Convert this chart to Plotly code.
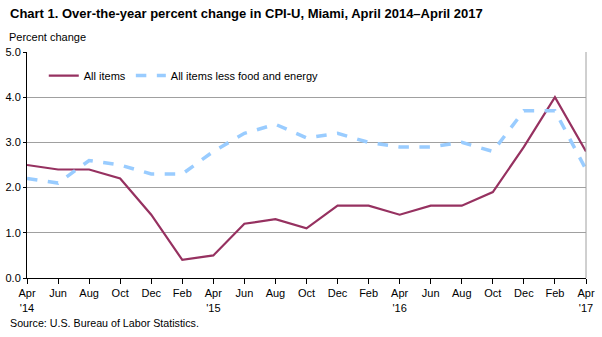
import plotly.graph_objects as go

months = ["Apr", "Jun", "Aug", "Oct", "Dec", "Feb", "Apr", "Jun", "Aug", "Oct",
          "Dec", "Feb", "Apr", "Jun", "Aug", "Oct", "Dec", "Feb", "Apr"]
years = ["'14", "", "", "", "", "", "'15", "", "", "", "", "", "'16", "", "", "", "", "", "'17"]
all_items = [2.5, 2.4, 2.4, 2.2, 1.4, 0.4, 0.5, 1.2, 1.3, 1.1, 1.6, 1.6, 1.4, 1.6, 1.6, 1.9, 2.9, 4.0, 2.8]
core = [2.2, 2.1, 2.6, 2.5, 2.3, 2.3, 2.8, 3.2, 3.4, 3.1, 3.2, 3.0, 2.9, 2.9, 3.0, 2.8, 3.7, 3.7, 2.4]

x = list(range(len(months)))
ticktext = [m + ("<br>" + y if y else "") for m, y in zip(months, years)]

fig = go.Figure()
fig.add_trace(go.Scatter(x=x, y=all_items, mode="lines", name="All items",
                         line=dict(color="#963160", width=2.2)))
fig.add_trace(go.Scatter(x=x, y=core, mode="lines", name="All items less food and energy",
                         line=dict(color="#99CCFF", width=3.5, dash="dash")))

font = "Liberation Sans, Arial, sans-serif"
fig.update_layout(
    width=602, height=337,
    margin=dict(l=27, r=16, t=52, b=59, autoexpand=False),
    paper_bgcolor="white", plot_bgcolor="white",
    font=dict(family=font, size=11, color="#000"),
    showlegend=True,
    legend=dict(orientation="h", x=0.03, y=0.96, xanchor="left", yanchor="top",
                bgcolor="rgba(0,0,0,0)", font=dict(size=11), itemwidth=30,
                tracegroupgap=0),
    xaxis=dict(range=[0, 18], tickvals=x, ticktext=ticktext, showgrid=False,
               showline=True, linecolor="#000", linewidth=1, ticks="outside",
               ticklen=5, tickcolor="#000", zeroline=False, tickfont=dict(size=11),
               automargin=False),
    yaxis=dict(range=[0, 5], tickvals=[0, 1, 2, 3, 4, 5],
               ticktext=["0.0", "1.0", "2.0", "3.0", "4.0", "5.0"],
               showgrid=True, gridcolor="#A0A0A0", gridwidth=1,
               showline=True, linecolor="#000", linewidth=1, ticks="outside",
               ticklen=3, tickcolor="#000", zeroline=False, tickfont=dict(size=11),
               automargin=False),
    shapes=[dict(type="line", xref="paper", yref="paper", x0=1, x1=1, y0=0, y1=1,
                 line=dict(color="#A0A0A0", width=1))],
    annotations=[
        dict(text="<b>Chart 1. Over-the-year percent change in CPI-U, Miami, April 2014\u2013April 2017</b>",
             xref="paper", yref="paper", x=-19/559, y=1 + 38/226, xanchor="left", yanchor="middle",
             showarrow=False, font=dict(size=13, family=font)),
        dict(text="Percent change", xref="paper", yref="paper", x=-20/559, y=1 + 15/226,
             xanchor="left", yanchor="middle", showarrow=False, font=dict(size=11, family=font)),
        dict(text="Source: U.S. Bureau of Labor Statistics.", xref="paper", yref="paper",
             x=-19/559, y=-45/226, xanchor="left", yanchor="middle", showarrow=False,
             font=dict(size=10.7, family=font)),
    ],
)
fig.write_html("out.html")
